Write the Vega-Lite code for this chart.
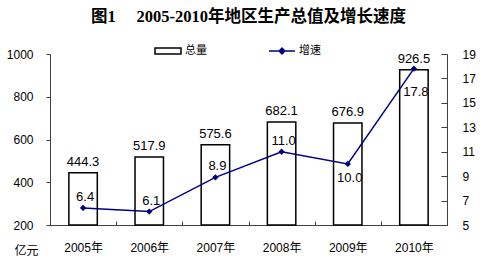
{
  "$schema": "https://vega.github.io/schema/vega-lite/v6.json",
  "width": 397,
  "height": 171,
  "autosize": {"type": "none"},
  "padding": {"left": 50, "top": 54, "right": 39, "bottom": 41},
  "background": "white",
  "config": {"view": {"stroke": null}},
  "title": {
    "text": "图1\u00a0\u00a0\u00a0\u00a0\u00a02005-2010年地区生产总值及增长速度",
    "font": "Liberation Serif, Noto Sans CJK SC",
    "fontSize": 16.5,
    "fontWeight": "bold",
    "color": "black",
    "offset": 12,
    "anchor": "middle"
  },
  "data": {
    "values": [
      {"year": "2005年", "total": 444.3, "growth": 6.4},
      {"year": "2006年", "total": 517.9, "growth": 6.1},
      {"year": "2007年", "total": 575.6, "growth": 8.9},
      {"year": "2008年", "total": 682.1, "growth": 11.0},
      {"year": "2009年", "total": 676.9, "growth": 10.0},
      {"year": "2010年", "total": 926.5, "growth": 17.8}
    ]
  },
  "encoding": {
    "x": {
      "field": "year",
      "type": "nominal",
      "sort": null,
      "scale": {"paddingInner": 0, "paddingOuter": 0},
      "axis": {
        "title": null,
        "labelAngle": 0,
        "tickBand": "extent",
        "tickSize": -4,
        "labelPadding": 21,
        "domainColor": "#404040",
        "tickColor": "#404040",
        "labelFont": "Liberation Sans, Noto Sans CJK SC",
        "labelFontSize": 12,
        "labelColor": "black"
      }
    }
  },
  "layer": [
    {
      "encoding": {
        "y": {
          "field": "total",
          "type": "quantitative",
          "scale": {"domain": [200, 1000], "zero": false},
          "axis": {
            "orient": "left",
            "values": [200, 400, 600, 800, 1000],
            "format": "d",
            "labelOverlap": false,
            "grid": false,
            "tickSize": 4,
            "labelPadding": 13,
            "domainColor": "#404040",
            "tickColor": "#404040",
            "labelFont": "Liberation Sans",
            "labelFontSize": 12,
            "labelColor": "black",
            "title": "亿元",
            "titleAngle": 0,
            "titleX": -24,
            "titleY": 196,
            "titleAlign": "center",
            "titleBaseline": "middle",
            "titleFont": "Noto Sans CJK SC",
            "titleFontSize": 12,
            "titleFontWeight": "normal",
            "titleColor": "black"
          }
        }
      },
      "layer": [
        {
          "mark": {"type": "bar", "fill": "white", "stroke": "black", "strokeWidth": 1.5, "width": {"band": 0.43}},
          "encoding": {
            "y2": {"datum": 200},
            "fill": {
              "datum": "总量",
              "type": "nominal",
              "scale": {"range": ["white"]},
              "legend": {
                "orient": "none",
                "legendX": 104,
                "legendY": -17,
                "title": null,
                "padding": 0,
                "symbolType": "M-1,-0.23H1V0.23H-1Z",
                "symbolSize": 676,
                "symbolStrokeColor": "black",
                "symbolStrokeWidth": 1.5,
                "labelFont": "Noto Sans CJK SC",
                "labelFontSize": 11,
                "labelColor": "black",
                "labelOffset": 3
              }
            }
          }
        },
        {
          "mark": {"type": "text", "baseline": "bottom", "dy": -4, "font": "Liberation Sans", "fontSize": 13, "color": "black"},
          "encoding": {
            "text": {"field": "total", "type": "quantitative", "format": ".1f"}
          }
        }
      ]
    },
    {
      "encoding": {
        "y": {
          "field": "growth",
          "type": "quantitative",
          "scale": {"domain": [5, 19], "zero": false},
          "axis": {
            "orient": "right",
            "values": [5, 7, 9, 11, 13, 15, 17, 19],
            "labelOverlap": false,
            "grid": false,
            "tickSize": -6,
            "labelPadding": 21,
            "domainColor": "#404040",
            "tickColor": "#404040",
            "labelFont": "Liberation Sans",
            "labelFontSize": 12,
            "labelColor": "black",
            "title": null
          }
        }
      },
      "layer": [
        {
          "mark": {"type": "line", "strokeWidth": 1.5},
          "encoding": {
            "stroke": {
              "datum": "增速",
              "type": "nominal",
              "scale": {"range": ["#000080"]},
              "legend": {
                "orient": "none",
                "legendX": 218,
                "legendY": -17,
                "title": null,
                "padding": 0,
                "symbolType": "M-1,0H1M-0.22,0L0,-0.22L0.22,0L0,0.22Z",
                "symbolSize": 676,
                "symbolFillColor": "#000080",
                "symbolStrokeWidth": 1.5,
                "labelFont": "Noto Sans CJK SC",
                "labelFontSize": 11,
                "labelColor": "black",
                "labelOffset": 3
              }
            }
          }
        },
        {
          "mark": {"type": "point", "shape": "diamond", "filled": true, "size": 40, "color": "#000080", "opacity": 1}
        },
        {
          "transform": [{"filter": "datum.year < '2009年'"}],
          "mark": {"type": "text", "baseline": "bottom", "dx": 2, "dy": -4, "font": "Liberation Sans", "fontSize": 13, "color": "black"},
          "encoding": {
            "text": {"field": "growth", "type": "quantitative", "format": ".1f"}
          }
        },
        {
          "transform": [{"filter": "datum.year == '2009年'"}],
          "mark": {"type": "text", "baseline": "top", "dx": 2, "dy": 8, "font": "Liberation Sans", "fontSize": 13, "color": "black"},
          "encoding": {
            "text": {"field": "growth", "type": "quantitative", "format": ".1f"}
          }
        },
        {
          "transform": [{"filter": "datum.year == '2010年'"}],
          "mark": {"type": "text", "baseline": "top", "dx": 2, "dy": 17, "font": "Liberation Sans", "fontSize": 13, "color": "black"},
          "encoding": {
            "text": {"field": "growth", "type": "quantitative", "format": ".1f"}
          }
        }
      ]
    }
  ],
  "resolve": {"scale": {"y": "independent"}}
}
